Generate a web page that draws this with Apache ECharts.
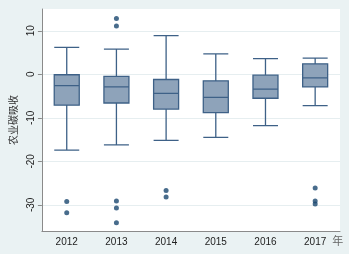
<!DOCTYPE html>
<html><head><meta charset="utf-8">
<script src="https://cdn.jsdelivr.net/npm/echarts@6/dist/echarts.min.js"></script>
<style>html,body{margin:0;padding:0;background:#EAF2F3;}#c{width:349px;height:254px;}</style>
</head><body><div id="c"></div>
<script>
const years = ['2012','2013','2014','2015','2016','2017'];
// [lower whisker, Q1, median, Q3, upper whisker]
const boxStats = [
  [-17.4, -7.1, -2.6, -0.1, 6.2],
  [-16.2, -6.6, -2.9, -0.5, 5.8],
  [-15.2, -8.0, -4.4, -1.2, 8.9],
  [-14.5, -8.8, -5.3, -1.5, 4.7],
  [-11.8, -5.5, -3.4, -0.2, 3.6],
  [-7.2, -2.9, -0.8, 2.4, 3.7]
];
const outlierYear = ['2012','2012','2013','2013','2013','2013','2013','2014','2014','2017','2017','2017'];
const outlierValue = [-29.2, -31.8, 12.8, 11.1, -29.1, -30.7, -34.1, -26.7, -28.2, -26.1, -29.1, -29.8];
const yTicks = [-30, -20, -10, 0, 10];

const chart = echarts.init(document.getElementById('c'));
chart.setOption({
  animation: false,
  backgroundColor: '#EAF2F3',
  grid: {left: 35, right: 9, top: 9, bottom: 23, show: true, backgroundColor: '#ffffff', borderWidth: 0},
  xAxis: {
    type: 'category', data: years, boundaryGap: true,
    axisLine: {show: true, onZero: false, lineStyle: {color: '#8a8a8a', width: 1}},
    axisTick: {show: false},
    axisLabel: {color: '#222', fontSize: 10, fontFamily: 'Liberation Sans, Arial', margin: 6},
    name: '年', nameLocation: 'end', nameGap: -9,
    nameTextStyle: {color: '#666', fontSize: 11, fontFamily: 'Noto Sans CJK SC', verticalAlign: 'top', padding: [4, 0, 0, 0]}
  },
  yAxis: {
    type: 'value', min: -36, max: 15,
    axisLine: {show: true, lineStyle: {color: '#8a8a8a', width: 1}},
    axisTick: {show: true, customValues: yTicks, length: 4, lineStyle: {color: '#8a8a8a'}},
    axisLabel: {customValues: yTicks, rotate: 90, color: '#222', fontSize: 10, fontFamily: 'Liberation Sans, Arial', margin: 6},
    splitLine: {show: true, lineStyle: {color: '#E6EEF0', width: 1}},
    name: '农业碳吸收', nameLocation: 'middle', nameGap: 14,
    nameTextStyle: {color: '#333', fontSize: 10, fontFamily: 'Noto Sans CJK SC'}
  },
  series: [
    {
      type: 'boxplot', data: boxStats, boxWidth: [25, 25],
      itemStyle: {color: '#8EA3BA', borderColor: '#3E6187', borderWidth: 1.3}
    },
    {
      type: 'scatter', data: outlierYear.map((y, i) => [y, outlierValue[i]]),
      symbol: 'circle', symbolSize: 5, itemStyle: {color: '#1A476F'}
    }
  ]
});
</script></body></html>
